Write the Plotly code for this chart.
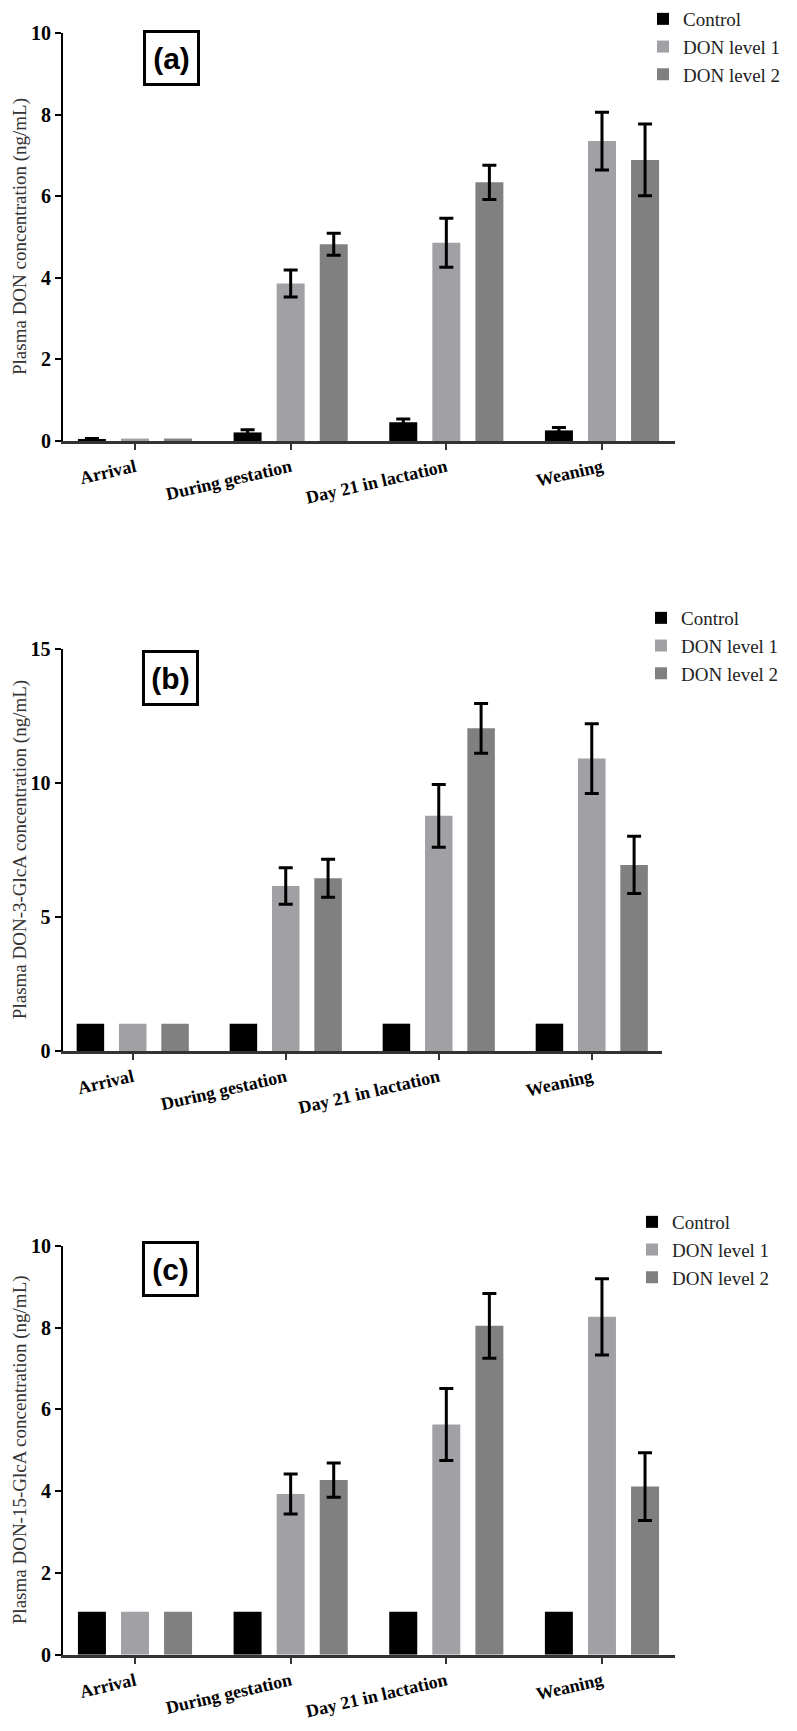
import plotly.graph_objects as go

# The page body adds an 8 px margin, so the figure is drawn 8 px smaller and
# all layout positions below are given in reference-picture pixels.
PAGE_W, PAGE_H, OFF = 797, 1731, 8
W, H = PAGE_W - OFF, PAGE_H - OFF

categories = ["Arrival", "During gestation", "Day 21 in lactation", "Weaning"]
groups = ["Control", "DON level 1", "DON level 2"]
colors = ["#000000", "#a1a1a5", "#808080"]

# "none" marks bars without an error bar
NO = "none"

# Panel (a): Plasma DON
don_control = [0.05, 0.21, 0.46, 0.26]
don_control_err = [0.01, 0.065, 0.08, 0.07]
don_level1 = [0.06, 3.86, 4.86, 7.35]
don_level1_err = [NO, 0.33, 0.60, 0.71]
don_level2 = [0.06, 4.82, 6.34, 6.89]
don_level2_err = [NO, 0.27, 0.42, 0.88]

# Panel (b): Plasma DON-3-GlcA
glca3_control = [1.02, 1.02, 1.02, 1.02]
glca3_control_err = [NO, NO, NO, NO]
glca3_level1 = [1.02, 6.16, 8.78, 10.92]
glca3_level1_err = [NO, 0.68, 1.17, 1.30]
glca3_level2 = [1.02, 6.45, 12.05, 6.95]
glca3_level2_err = [NO, 0.71, 0.93, 1.07]

# Panel (c): Plasma DON-15-GlcA
glca15_control = [1.05, 1.05, 1.05, 1.05]
glca15_control_err = [NO, NO, NO, NO]
glca15_level1 = [1.05, 3.93, 5.63, 8.26]
glca15_level1_err = [NO, 0.49, 0.88, 0.93]
glca15_level2 = [1.05, 4.27, 8.04, 4.11]
glca15_level2_err = [NO, 0.42, 0.79, 0.83]

y_titles = ["Plasma DON concentration (ng/mL)",
            "Plasma DON-3-GlcA concentration (ng/mL)",
            "Plasma DON-15-GlcA concentration (ng/mL)"]
panel_labels = ["(a)", "(b)", "(c)"]
y_max = [10, 15, 10]
y_dtick = [2, 5, 2]


def px(x):
    return (x - OFF) / W


def py(y):
    return 1 - (y - OFF) / H


panels = [
    dict(vals=[don_control, don_level1, don_level2],
         errs=[don_control_err, don_level1_err, don_level2_err],
         xdom=(63, 675), ydom=(33, 441), xr=(-0.4625, 3.469),
         leg=(643, 0), lab=(171.5, 58)),
    dict(vals=[glca3_control, glca3_level1, glca3_level2],
         errs=[glca3_control_err, glca3_level1_err, glca3_level2_err],
         xdom=(62.5, 662), ydom=(649.3, 1051), xr=(-0.459, 3.459),
         leg=(641, 599), lab=(170.5, 678)),
    dict(vals=[glca15_control, glca15_level1, glca15_level2],
         errs=[glca15_control_err, glca15_level1_err, glca15_level2_err],
         xdom=(63, 674.5), ydom=(1245.7, 1654.7), xr=(-0.4625, 3.466),
         leg=(632, 1203), lab=(170, 1269)),
]

fig = go.Figure()
annotations = []
layout = {}
serif = "Liberation Serif"

for i, p in enumerate(panels):
    sfx = "" if i == 0 else str(i + 1)
    legname = "legend" + sfx
    for g, name in enumerate(groups):
        err = p["errs"][g]
        has_err = any(e != NO for e in err)
        fig.add_trace(go.Bar(
            x=categories, y=p["vals"][g], name=name,
            marker=dict(color=colors[g], line=dict(width=0)),
            error_y=dict(type="data", array=err, visible=has_err,
                         color="#000000", thickness=3, width=7),
            xaxis="x" + sfx, yaxis="y" + sfx, legend=legname,
            offsetgroup=str(g),
        ))
    layout["xaxis" + sfx] = dict(
        domain=[px(p["xdom"][0]), px(p["xdom"][1])], anchor="y" + sfx,
        type="category", range=list(p["xr"]), showgrid=False, zeroline=False,
        showline=True, linecolor="#333333", linewidth=3,
        ticks="outside", ticklen=6, tickwidth=2, tickcolor="#333333",
        tickangle=-13, automargin=False,
        tickfont=dict(family=serif, size=18, color="#000000", weight="bold"),
    )
    layout["yaxis" + sfx] = dict(
        domain=[py(p["ydom"][1]), py(p["ydom"][0])], anchor="x" + sfx,
        range=[0, y_max[i]], dtick=y_dtick[i], tick0=0, showgrid=False,
        zeroline=False, showline=True, linecolor="#000000", linewidth=2,
        ticks="outside", ticklen=6, tickwidth=2, tickcolor="#000000",
        automargin=False,
        tickfont=dict(family=serif, size=20, color="#000000", weight="bold"),
    )
    layout[legname] = dict(
        x=px(p["leg"][0]), y=py(p["leg"][1]), xanchor="left", yanchor="top",
        bgcolor="rgba(0,0,0,0)", borderwidth=0, tracegroupgap=0,
        font=dict(family=serif, size=19, color="#222222"),
    )
    annotations.append(dict(
        text=y_titles[i], xref="paper", yref="paper", x=px(20),
        y=py((p["ydom"][0] + p["ydom"][1]) / 2), textangle=-90,
        showarrow=False, xanchor="center", yanchor="middle",
        font=dict(family=serif, size=19, color="#333333"),
    ))
    annotations.append(dict(
        text=panel_labels[i], xref="paper", yref="paper",
        x=px(p["lab"][0]), y=py(p["lab"][1]), showarrow=False,
        xanchor="center", yanchor="middle", width=51, height=50,
        bordercolor="#000000", borderwidth=3, borderpad=0,
        font=dict(family="Liberation Sans", size=30,
                  color="#000000", weight="bold"),
    ))

fig.update_layout(
    width=W, height=H, margin=dict(l=0, r=0, t=0, b=0, autoexpand=False),
    paper_bgcolor="white", plot_bgcolor="white",
    barmode="group", bargap=0.17, bargroupgap=0.35,
    showlegend=True, annotations=annotations, **layout,
)

fig.write_html("out.html")
